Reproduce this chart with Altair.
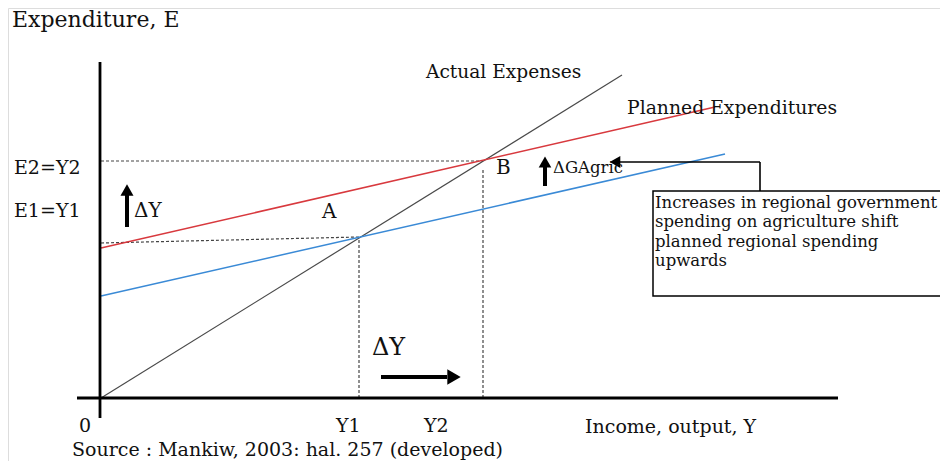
import altair as alt
import pandas as pd

# ---- data (income / expenditure units, origin at 0,0) ----
Y1 = 258
Y2 = 382
E1 = 161
E2 = 237

# curves: (x1, y1, x2, y2)
actual_line = [(0, 0, 521, 323)]
planned_old = [(0, 102, 624, 244)]
planned_new = [(0, 150, 614, 291)]
axes_lines = [(-1, -20, -1, 336), (-24, 0, 737, 0)]
guide_lines = [(0, E2, Y2, E2), (0, 155, Y1, E1), (Y1, 0, Y1, E1), (Y2, 0, Y2, 228)]
arrow_shafts = [(26, 171, 26, 203), (444, 212, 444, 231), (280, 21, 346, 21)]
connector_lines = [(659, 207, 659, 236), (659, 236, 519, 236)]
head_x = [26, 444, 353, 514]
head_y = [208, 236, 21, 236]
head_shape = ["triangle-up", "triangle-up", "triangle-right", "triangle-left"]
head_size = [170, 160, 240, 150]
box = [(552, 102, 880, 207)]

label_text = ["Expenditure, E", "E2=Y2", "E1=Y1", "ΔY", "A", "B", "ΔGAgric",
              "Actual Expenses", "Planned Expenditures", "ΔY",
              "0", "Y1", "Y2", "Income, output, Y",
              "Source : Mankiw, 2003: hal. 257 (developed)"]
label_x = [-89, -87, -87, 33, 221, 395, 452, 325, 526, 271, -22, 235, 323, 484, -29]
label_y = [378, 230, 187, 187, 186, 230, 230, 326, 290, 50, -28, -28, -28, -29, -52]
label_size = [22, 19, 19, 20, 20, 20, 16.5, 18.6, 18.8, 24, 19, 19, 19, 19, 19]

box_text = ["Increases in regional government",
            "spending on agriculture shift",
            "planned regional spending",
            "upwards"]
box_text_x = [554, 554, 554, 554]
box_text_y = [195, 176, 156, 137]

FONT = "DejaVu Serif"

xs = alt.Scale(domain=[-93, 839], nice=False, zero=False)
ys = alt.Scale(domain=[-63, 390], nice=False, zero=False)


def segs(rows):
    return pd.DataFrame(rows, columns=["x", "y", "x2", "y2"])


def rule_layer(rows, color, width, dash=None):
    kw = dict(color=color, strokeWidth=width)
    if dash is not None:
        kw["strokeDash"] = dash
    return alt.Chart(segs(rows)).mark_rule(**kw).encode(
        x=alt.X("x:Q", scale=xs, axis=None),
        y=alt.Y("y:Q", scale=ys, axis=None),
        x2="x2:Q",
        y2="y2:Q",
    )


layers = []
layers.append(rule_layer(guide_lines, "#444444", 1.2, [3, 2]))
layers.append(rule_layer(actual_line, "#4a4a4a", 1.2))
layers.append(rule_layer(planned_old, "#3a8ad6", 1.5))
layers.append(rule_layer(planned_new, "#d8393e", 1.5))
layers.append(rule_layer(axes_lines, "#000000", 2.8))
layers.append(rule_layer(arrow_shafts, "#000000", 4))
layers.append(rule_layer(connector_lines, "#000000", 1.6))

box_df = segs(box)
layers.append(
    alt.Chart(box_df).mark_rect(fill="white", fillOpacity=0, stroke="black", strokeWidth=1.5, clip=True).encode(
        x=alt.X("x:Q", scale=xs, axis=None),
        y=alt.Y("y:Q", scale=ys, axis=None),
        x2="x2:Q",
        y2="y2:Q",
    )
)

heads = pd.DataFrame({"x": head_x, "y": head_y, "shape": head_shape, "s": head_size})
layers.append(
    alt.Chart(heads).mark_point(filled=True, color="black", opacity=1).encode(
        x=alt.X("x:Q", scale=xs, axis=None),
        y=alt.Y("y:Q", scale=ys, axis=None),
        shape=alt.Shape("shape:N", scale=None, legend=None),
        size=alt.Size("s:Q", scale=None, legend=None),
    )
)

labels = pd.DataFrame({"t": label_text, "x": label_x, "y": label_y, "s": label_size})
layers.append(
    alt.Chart(labels).mark_text(align="left", baseline="middle", font=FONT, color="#111111").encode(
        x=alt.X("x:Q", scale=xs, axis=None),
        y=alt.Y("y:Q", scale=ys, axis=None),
        text="t:N",
        size=alt.Size("s:Q", scale=None, legend=None),
    )
)

btext = pd.DataFrame({"t": box_text, "x": box_text_x, "y": box_text_y})
layers.append(
    alt.Chart(btext).mark_text(align="left", baseline="middle", font=FONT, fontSize=16.5, color="#111111").encode(
        x=alt.X("x:Q", scale=xs, axis=None),
        y=alt.Y("y:Q", scale=ys, axis=None),
        text="t:N",
    )
)

chart = alt.layer(*layers).properties(
    width=932, height=453, padding=0, autosize=alt.AutoSizeParams(type="none")
).configure_view(stroke=None, strokeWidth=0).configure(background="white")

chart.save("out.html", embed_options={"renderer": "svg", "actions": False})
